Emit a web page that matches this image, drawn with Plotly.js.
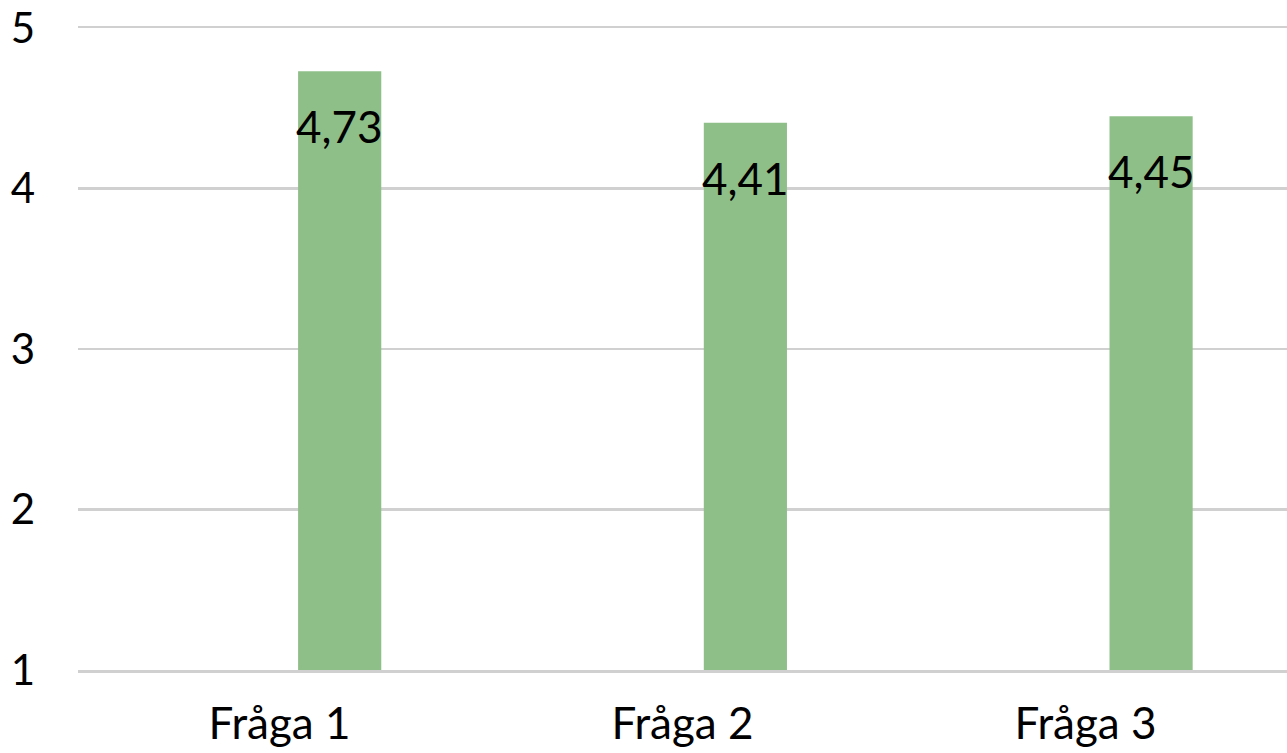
<!DOCTYPE html>
<html>
<head>
<meta charset="utf-8">
<script src="https://cdn.plot.ly/plotly-3.0.1.min.js"></script>
<style>html,body{margin:0;padding:0;background:#fff;}#chart{width:1287px;height:753px;}</style>
</head>
<body>
<div id="chart"></div>
<script>
const categories = ["Fråga 1", "Fråga 2", "Fråga 3"];
const values = [4.73, 4.41, 4.45];
const valueLabels = ["4,73", "4,41", "4,45"];
const yTicks = [1, 2, 3, 4, 5];

const FONT = "Lato, 'Open Sans', sans-serif";
const idx = categories.map((c, i) => i);

// invisible anchor trace so the category-label axis is drawn
const labelAnchor = {
  type: "scatter", mode: "markers",
  x: idx, y: values, xaxis: "x",
  marker: {opacity: 0, size: 1},
  hoverinfo: "skip"
};

const bars = {
  type: "bar",
  x: idx,
  y: values.map(v => v - 1),
  base: values.map(() => 1),
  width: 0.205,
  xaxis: "x2",
  marker: {color: "#8fbf88", line: {width: 0}},
  hoverinfo: "skip",
  textposition: "none"
};

const annotations = categories.map((c, i) => ({
  x: idx[i], y: values[i], xref: "x2", yref: "y",
  text: valueLabels[i], showarrow: false,
  yanchor: "middle", xanchor: "center", yshift: -55,
  font: {family: FONT, size: 44, color: "#000"}
}));

const layout = {
  width: 1287, height: 753,
  margin: {l: 78, r: 0, t: 28, b: 83},
  paper_bgcolor: "#fff", plot_bgcolor: "#fff",
  showlegend: false,
  annotations: annotations,
  xaxis: {
    range: [-0.5, 2.5], tickvals: idx, ticktext: categories,
    showgrid: false, zeroline: false,
    showline: true, mirror: true, linecolor: "#d0d0d0", linewidth: 2.5,
    ticks: "", ticklabelstandoff: 14,
    tickfont: {family: FONT, size: 44, color: "#000"}
  },
  xaxis2: {
    overlaying: "x", range: [-0.645, 2.335],
    showgrid: false, zeroline: false, showline: false,
    showticklabels: false, ticks: ""
  },
  yaxis: {
    range: [1, 5], tickvals: yTicks, ticktext: yTicks.map(String),
    showgrid: true, gridcolor: "#d0d0d0", gridwidth: 2.5,
    zeroline: false, showline: false, ticks: "",
    ticklabelstandoff: 42,
    tickfont: {family: FONT, size: 42, color: "#000"}
  }
};

Plotly.newPlot("chart", [labelAnchor, bars], layout, {displayModeBar: false, staticPlot: true});
</script>
</body>
</html>
